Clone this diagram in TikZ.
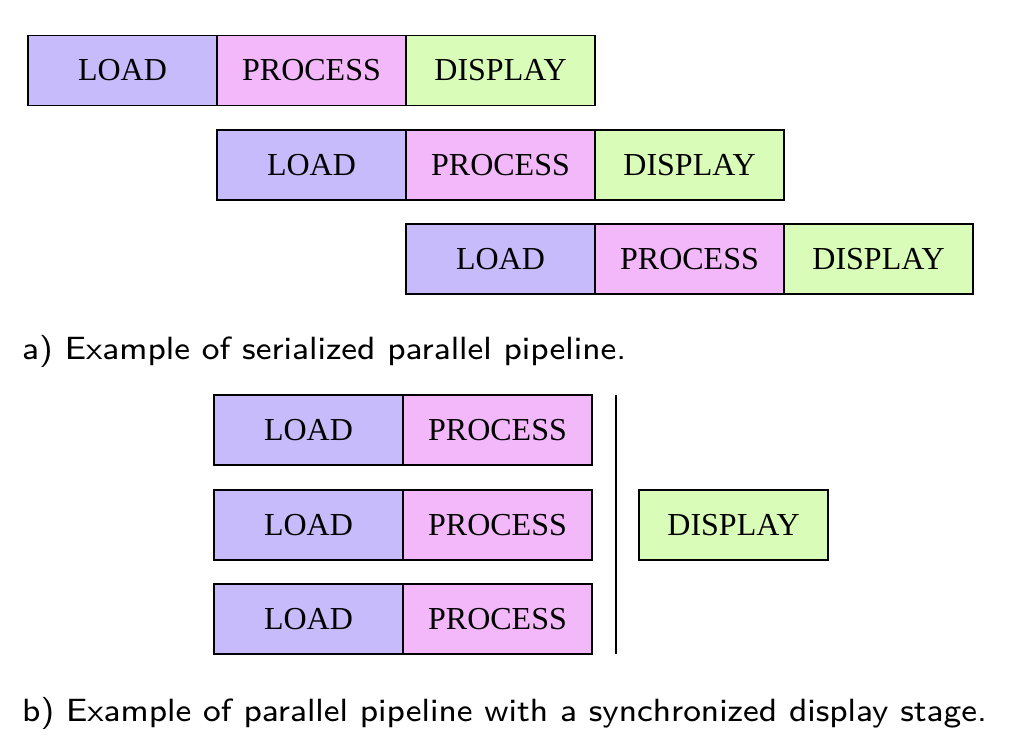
\documentclass[tikz,border=0pt]{standalone}
\usepackage{fontspec}
\usepackage{graphicx}
\newfontfamily\boxfont{Liberation Serif}
\definecolor{loadc}{RGB}{200,187,251}
\definecolor{procc}{RGB}{243,184,250}
\definecolor{dispc}{RGB}{218,252,185}
\newcommand{\capt}[1]{\scalebox{4.17}[4.02]{\sffamily\fontsize{8}{10}\selectfont #1}}
\begin{document}
\begin{tikzpicture}[x=1pt,y=-1pt,
  stage/.style={draw=black,line width=1.6pt,minimum width=189pt,minimum height=70pt,inner sep=0pt,font=\boxfont\fontsize{32}{36}\selectfont},
  ld/.style={stage,fill=loadc},
  pr/.style={stage,fill=procc},
  ds/.style={stage,fill=dispc},
  captext/.style={anchor=base west,inner sep=0pt}]
\useasboundingbox (0,0) rectangle (1009,745);
% part a
\node[ld] (l1) at (122.5,70.5) {LOAD};
\node[pr] (p1) at (311.5,70.5) {PROCESS};
\node[ds] (d1) at (500.5,70.5) {DISPLAY};
\node[ld] (l2) at (311.5,165) {LOAD};
\node[pr] (p2) at (500.5,165) {PROCESS};
\node[ds] (d2) at (689.5,165) {DISPLAY};
\node[ld] (l3) at (500.5,259) {LOAD};
\node[pr] (p3) at (689.5,259) {PROCESS};
\node[ds] (d3) at (878.5,259) {DISPLAY};
\node[captext] (capa) at (22,359.5) {\capt{a) Example of serialized parallel pipeline.}};
% part b
\node[ld] (bl1) at (308.5,430) {LOAD};
\node[pr] (bp1) at (497.5,430) {PROCESS};
\node[ld] (bl2) at (308.5,525) {LOAD};
\node[pr] (bp2) at (497.5,525) {PROCESS};
\node[ld] (bl3) at (308.5,619) {LOAD};
\node[pr] (bp3) at (497.5,619) {PROCESS};
\node[ds] (bd) at (733.5,525) {DISPLAY};
\coordinate (st) at (616,395);
\coordinate (sb) at (616,654);
\draw[line width=1.6pt] (st) -- (sb);
\node[captext] (capb) at (22,721.5) {\capt{b) Example of parallel pipeline with a synchronized display stage.}};
\end{tikzpicture}
\end{document}
